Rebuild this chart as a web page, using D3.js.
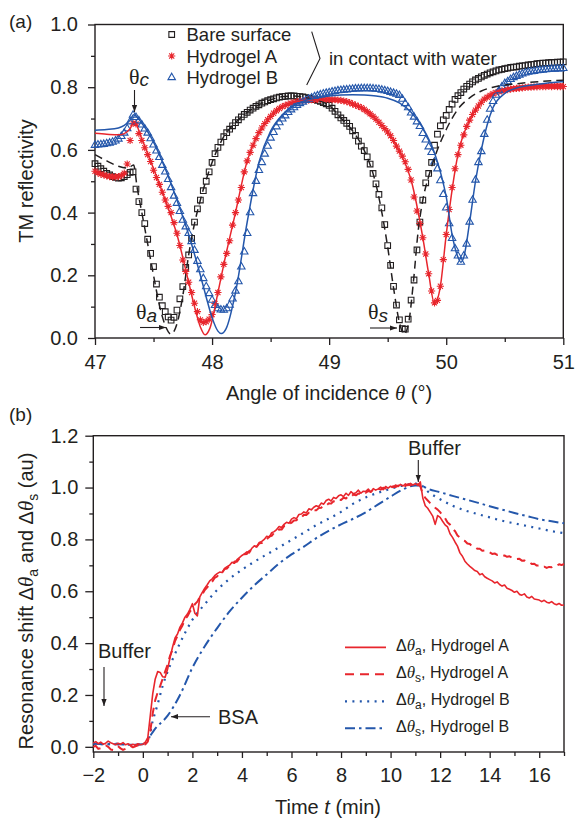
<!DOCTYPE html>
<html>
<head>
<meta charset="utf-8">
<script src="https://cdn.jsdelivr.net/npm/d3@7"></script>
<style>
  body { margin: 0; background: #fff; }
  svg text { font-family: "Liberation Sans", Arial, Helvetica, sans-serif; fill: #231f20; }
</style>
</head>
<body>
<svg id="chart" width="575" height="822"></svg>
<script>
// ---------- Panel (a): TM reflectivity vs. angle of incidence ----------
// measured points, sampled every 0.025° starting at 47°
const angleStart = 47;
const angleStep = 0.025;
const bareSurface = [
  0.556,0.548,0.540,0.532,0.525,0.520,0.515,0.512,0.510,0.511,
  0.515,0.521,0.528,0.530,0.475,0.435,0.400,0.365,0.315,0.270,
  0.228,0.172,0.130,0.103,0.084,0.067,0.057,0.066,0.089,0.125,
  0.164,0.225,0.265,0.318,0.370,0.412,0.440,0.470,0.500,0.530,
  0.560,0.588,0.608,0.625,0.642,0.655,0.666,0.677,0.687,0.696,
  0.705,0.713,0.720,0.727,0.733,0.739,0.744,0.749,0.753,0.757,
  0.760,0.763,0.766,0.768,0.770,0.771,0.772,0.772,0.772,0.771,
  0.770,0.769,0.767,0.765,0.762,0.760,0.758,0.755,0.751,0.747,
  0.742,0.733,0.723,0.712,0.702,0.694,0.685,0.675,0.661,0.646,
  0.628,0.612,0.598,0.578,0.555,0.525,0.492,0.458,0.415,0.362,
  0.295,0.232,0.165,0.105,0.058,0.030,0.028,0.060,0.121,0.185,
  0.281,0.370,0.440,0.495,0.525,0.560,0.615,0.650,0.677,0.696,
  0.710,0.729,0.746,0.761,0.773,0.783,0.794,0.803,0.810,0.817,
  0.823,0.828,0.833,0.838,0.842,0.846,0.849,0.852,0.855,0.857,
  0.859,0.861,0.863,0.864,0.865,0.867,0.868,0.869,0.871,0.872,
  0.873,0.875,0.876,0.877,0.877,0.878,0.879,0.879,0.880,0.880,
  0.881
];
const hydrogelA = [
  0.532,0.527,0.523,0.520,0.517,0.515,0.514,0.514,0.515,0.518,
  0.526,0.555,0.630,0.685,0.683,0.652,0.630,0.607,0.585,0.563,
  0.535,0.512,0.490,0.465,0.440,0.420,0.400,0.368,0.334,0.295,
  0.249,0.212,0.178,0.145,0.111,0.084,0.058,0.050,0.052,0.060,
  0.075,0.110,0.145,0.195,0.235,0.270,0.310,0.360,0.400,0.440,
  0.480,0.530,0.565,0.592,0.615,0.636,0.655,0.670,0.684,0.696,
  0.707,0.717,0.725,0.732,0.738,0.742,0.746,0.749,0.752,0.754,
  0.756,0.757,0.758,0.759,0.760,0.760,0.761,0.761,0.761,0.761,
  0.761,0.760,0.760,0.759,0.758,0.756,0.754,0.751,0.747,0.743,
  0.739,0.735,0.729,0.722,0.715,0.707,0.698,0.688,0.678,0.668,
  0.657,0.645,0.630,0.612,0.596,0.580,0.562,0.538,0.504,0.450,
  0.405,0.365,0.320,0.268,0.205,0.150,0.112,0.120,0.165,0.250,
  0.330,0.410,0.480,0.540,0.585,0.615,0.648,0.675,0.695,0.713,
  0.727,0.740,0.752,0.762,0.768,0.774,0.779,0.783,0.786,0.788,
  0.790,0.792,0.794,0.795,0.796,0.797,0.798,0.799,0.800,0.800,
  0.801,0.801,0.802,0.802,0.802,0.803,0.802,0.803,0.802,0.802,
  0.802
];
const hydrogelB = [
  0.615,0.616,0.617,0.618,0.620,0.622,0.625,0.629,0.635,0.643,
  0.654,0.668,0.690,0.711,0.704,0.693,0.680,0.667,0.654,0.636,
  0.616,0.597,0.576,0.551,0.530,0.506,0.480,0.453,0.430,0.404,
  0.376,0.355,0.334,0.308,0.280,0.245,0.218,0.190,0.164,0.142,
  0.121,0.104,0.094,0.090,0.089,0.094,0.105,0.125,0.150,0.180,
  0.227,0.275,0.334,0.400,0.461,0.500,0.535,0.560,0.587,0.612,
  0.638,0.656,0.674,0.687,0.699,0.709,0.720,0.728,0.735,0.742,
  0.748,0.753,0.758,0.762,0.766,0.770,0.773,0.776,0.779,0.781,
  0.783,0.785,0.787,0.789,0.790,0.791,0.792,0.793,0.794,0.795,
  0.795,0.796,0.796,0.796,0.796,0.795,0.794,0.793,0.791,0.789,
  0.787,0.784,0.781,0.778,0.774,0.762,0.748,0.735,0.718,0.705,
  0.690,0.675,0.653,0.632,0.610,0.592,0.562,0.540,0.502,0.458,
  0.415,0.365,0.318,0.285,0.262,0.242,0.262,0.300,0.370,0.440,
  0.504,0.560,0.595,0.650,0.695,0.730,0.755,0.775,0.789,0.801,
  0.812,0.818,0.825,0.831,0.835,0.839,0.843,0.846,0.848,0.850,
  0.851,0.853,0.854,0.855,0.856,0.857,0.858,0.858,0.859,0.859,
  0.860
];
// fitted curves, [angle, reflectivity]
const fitBare = [[47.00,0.585],[47.10,0.565],[47.20,0.548],[47.28,0.542],[47.33,0.552],[47.36,0.48],[47.40,0.40],[47.45,0.30],[47.50,0.20],[47.55,0.105],[47.60,0.04],[47.65,0.012],[47.70,0.045],[47.75,0.135],[47.80,0.265],[47.85,0.365],[47.90,0.44],[48.00,0.56],[48.10,0.642],[48.20,0.687],[48.30,0.72],[48.40,0.744],[48.50,0.76],[48.60,0.77],[48.70,0.772],[48.80,0.767],[48.90,0.758],[49.00,0.742],[49.10,0.702],[49.20,0.661],[49.30,0.598],[49.40,0.49],[49.50,0.29],[49.55,0.16],[49.60,0.05],[49.64,0.012],[49.68,0.05],[49.72,0.18],[49.76,0.34],[49.80,0.44],[49.85,0.515],[49.90,0.575],[50.00,0.665],[50.10,0.73],[50.20,0.766],[50.30,0.788],[50.40,0.80],[50.60,0.811],[50.80,0.818],[51.00,0.822]];
const fitA = [[47.00,0.653],[47.10,0.650],[47.20,0.648],[47.25,0.652],[47.30,0.668],[47.335,0.69],[47.40,0.635],[47.50,0.54],[47.60,0.44],[47.70,0.33],[47.80,0.178],[47.85,0.10],[47.90,0.035],[47.94,0.01],[47.98,0.03],[48.05,0.145],[48.10,0.235],[48.20,0.40],[48.30,0.565],[48.40,0.655],[48.50,0.707],[48.60,0.738],[48.70,0.752],[48.80,0.758],[48.90,0.76],[49.00,0.76],[49.10,0.757],[49.20,0.746],[49.30,0.728],[49.40,0.697],[49.50,0.656],[49.60,0.596],[49.70,0.504],[49.80,0.32],[49.85,0.205],[49.90,0.11],[49.95,0.165],[50.00,0.33],[50.10,0.585],[50.20,0.695],[50.30,0.752],[50.40,0.782],[50.50,0.795],[50.60,0.802],[50.80,0.807],[51.00,0.81]];
const fitB = [[47.00,0.663],[47.10,0.665],[47.20,0.670],[47.25,0.678],[47.30,0.695],[47.33,0.712],[47.40,0.685],[47.50,0.625],[47.60,0.54],[47.70,0.44],[47.80,0.33],[47.90,0.20],[47.95,0.13],[48.00,0.065],[48.05,0.022],[48.08,0.014],[48.12,0.03],[48.20,0.145],[48.30,0.37],[48.40,0.56],[48.50,0.66],[48.60,0.712],[48.70,0.742],[48.80,0.758],[48.90,0.767],[49.00,0.772],[49.10,0.775],[49.20,0.776],[49.30,0.775],[49.40,0.772],[49.50,0.765],[49.60,0.75],[49.70,0.72],[49.80,0.67],[49.90,0.59],[49.95,0.53],[50.00,0.45],[50.05,0.33],[50.10,0.258],[50.125,0.242],[50.15,0.258],[50.20,0.37],[50.25,0.50],[50.30,0.60],[50.35,0.68],[50.40,0.735],[50.50,0.78],[50.60,0.797],[50.80,0.81],[51.00,0.818]];
const angleTicks = [47, 48, 49, 50, 51];
const angleMinorTicks = [47.5, 48.5, 49.5, 50.5];
const reflTicks = [0, 0.2, 0.4, 0.6, 0.8, 1.0];
const reflMinorTicks = [0.1, 0.3, 0.5, 0.7, 0.9];
const legendA = ["Bare surface", "Hydrogel A", "Hydrogel B"];

// ---------- Panel (b): normalised resonance shift vs. time ----------
// Hydrogel A, sampled every 0.1 min from -2 min
const timeStart = -2;
const timeStep = 0.1;
const shiftA_a = [
  0.015,0.020,0.012,0.018,0.010,0.014,0.022,0.016,0.012,0.008,
  0.014,0.010,0.016,0.008,0.012,0.005,0.010,0.006,0.012,0.008,
  0.010,0.018,0.035,0.120,0.205,0.262,0.290,0.287,0.270,0.268,
  0.300,0.345,0.385,0.420,0.435,0.462,0.478,0.500,0.512,0.530,
  0.552,0.515,0.505,0.578,0.596,0.612,0.625,0.640,0.648,0.660,
  0.668,0.674,0.672,0.688,0.695,0.700,0.712,0.708,0.722,0.730,
  0.738,0.744,0.752,0.748,0.766,0.775,0.772,0.788,0.792,0.800,
  0.812,0.808,0.826,0.830,0.838,0.850,0.846,0.858,0.866,0.862,
  0.878,0.884,0.880,0.896,0.898,0.906,0.902,0.918,0.914,0.924,
  0.930,0.926,0.940,0.936,0.950,0.955,0.948,0.962,0.958,0.968,
  0.972,0.965,0.978,0.970,0.984,0.976,0.980,0.990,0.978,0.986,
  0.985,0.994,0.982,0.996,0.990,0.995,1.002,0.992,1.004,0.998,
  1.005,1.000,1.010,1.004,1.012,1.006,1.014,1.008,1.016,1.010,
  1.015,1.008,1.022,0.960,0.930,0.920,0.905,0.890,0.858,0.892,
  0.885,0.870,0.856,0.848,0.822,0.808,0.790,0.774,0.748,0.735,
  0.716,0.705,0.696,0.688,0.680,0.676,0.664,0.668,0.656,0.650,
  0.645,0.640,0.632,0.636,0.626,0.620,0.624,0.612,0.608,0.603,
  0.596,0.600,0.588,0.585,0.590,0.578,0.574,0.580,0.570,0.568,
  0.566,0.560,0.565,0.558,0.555,0.560,0.552,0.548,0.553,0.546,
  0.547
];
const shiftA_s = [
  0.000,0.004,-0.008,-0.005,0.002,0.006,0.000,-0.010,-0.012,-0.004,
  0.002,-0.006,-0.012,-0.008,0.000,0.004,-0.002,0.002,0.006,0.004,
  0.006,0.010,0.020,0.060,0.130,0.180,0.210,0.235,0.262,0.290,
  0.318,0.352,0.375,0.408,0.428,0.452,0.468,0.492,0.503,0.522,
  0.532,0.550,0.560,0.578,0.588,0.605,0.615,0.630,0.637,0.652,
  0.657,0.671,0.672,0.686,0.688,0.700,0.700,0.715,0.714,0.727,
  0.730,0.743,0.744,0.756,0.758,0.771,0.772,0.785,0.786,0.797,
  0.800,0.811,0.814,0.825,0.826,0.839,0.838,0.851,0.852,0.861,
  0.864,0.873,0.874,0.885,0.884,0.895,0.894,0.903,0.904,0.913,
  0.912,0.921,0.922,0.931,0.930,0.939,0.938,0.947,0.944,0.953,
  0.952,0.961,0.958,0.967,0.964,0.973,0.970,0.977,0.976,0.983,
  0.980,0.987,0.984,0.991,0.988,0.995,0.992,0.999,0.996,1.003,
  0.998,1.005,1.002,1.008,1.004,1.011,1.006,1.013,1.008,1.014,
  1.010,1.014,1.005,0.975,0.960,0.950,0.940,0.930,0.922,0.915,
  0.905,0.892,0.882,0.865,0.857,0.840,0.832,0.815,0.807,0.798,
  0.794,0.784,0.782,0.773,0.772,0.764,0.764,0.756,0.757,0.750,
  0.750,0.744,0.746,0.740,0.742,0.736,0.738,0.733,0.735,0.729,
  0.730,0.724,0.725,0.718,0.719,0.712,0.712,0.705,0.706,0.699,
  0.700,0.693,0.695,0.690,0.694,0.693,0.700,0.698,0.704,0.701,
  0.705
];
// Hydrogel B, [time, shift]
const shiftB_a = [[-2,0.012],[-1.5,0.010],[-1,0.012],[-0.5,0.008],[0,0.010],[0.2,0.02],[0.4,0.10],[0.6,0.165],[0.8,0.235],[1.0,0.29],[1.25,0.348],[1.5,0.40],[1.75,0.448],[2,0.49],[2.5,0.55],[3,0.605],[3.5,0.648],[4,0.683],[4.5,0.714],[5,0.742],[5.5,0.77],[6,0.798],[6.5,0.826],[7,0.855],[7.5,0.88],[8,0.906],[8.5,0.938],[9,0.962],[9.5,0.98],[10,0.995],[10.5,1.008],[11,1.015],[11.2,1.012],[11.5,0.985],[12,0.955],[12.5,0.93],[13,0.912],[13.5,0.898],[14,0.885],[14.5,0.872],[15,0.862],[15.5,0.852],[16,0.842],[16.5,0.832],[17,0.824]];
const shiftB_s = [[-2,0.012],[-1.5,0.010],[-1,0.010],[-0.5,0.008],[0,0.010],[0.2,0.03],[0.5,0.07],[1.0,0.12],[1.5,0.20],[2.0,0.305],[2.5,0.388],[3.0,0.458],[3.5,0.522],[4.0,0.575],[4.5,0.623],[5.0,0.665],[5.5,0.707],[6.0,0.742],[6.5,0.772],[7.0,0.805],[7.5,0.833],[8.0,0.858],[8.5,0.88],[9.0,0.905],[9.5,0.935],[10.0,0.965],[10.5,0.993],[11.0,1.008],[11.2,1.008],[11.5,0.995],[12,0.982],[12.5,0.968],[13,0.955],[13.5,0.942],[14,0.928],[14.5,0.915],[15,0.902],[15.5,0.89],[16,0.878],[16.5,0.87],[17,0.862]];
const timeTicks = [-2, 0, 2, 4, 6, 8, 10, 12, 14, 16];
const timeMinorTicks = [-1, 1, 3, 5, 7, 9, 11, 13, 15, 17];
const shiftTicks = [0, 0.2, 0.4, 0.6, 0.8, 1.0, 1.2];
const shiftMinorTicks = [0.1, 0.3, 0.5, 0.7, 0.9, 1.1];

// ---------- drawing ----------
const ink = "#231f20", red = "#e8262d", blue = "#2457ab";
const svg = d3.select("#chart");

const xA = d3.scaleLinear().domain([47, 51]).range([95, 563.3]);
const yA = d3.scaleLinear().domain([0, 1]).range([338, 24.5]);
const xB = d3.scaleLinear().domain([-2, 17]).range([93.3, 564]);
const yB = d3.scaleLinear().domain([-0.02, 1.2]).range([752, 435.7]);

function frameAndAxes(x, y, o) {
  const [xl, xr] = x.range();
  const [yb, yt] = y.range();
  const g = svg.append("g");
  const tidy = sel => {
    sel.select(".domain").remove();
    sel.selectAll(".tick line").attr("stroke", ink).attr("stroke-width", 1.3);
    sel.selectAll(".tick text").attr("font-size", 20).attr("fill", ink)
      .attr("font-family", "'Liberation Sans', Arial, sans-serif");
  };
  g.append("g").attr("transform", `translate(0,${yb})`)
    .call(d3.axisBottom(x).tickValues(o.xMinor).tickSize(4).tickFormat("")).call(tidy);
  g.append("g").attr("transform", `translate(0,${yb})`)
    .call(d3.axisBottom(x).tickValues(o.xMajor).tickSize(o.xTick).tickPadding(o.xPad).tickFormat(o.xFmt)).call(tidy);
  g.append("g").attr("transform", `translate(${xl},0)`)
    .call(d3.axisLeft(y).tickValues(o.yMinor).tickSize(4).tickFormat("")).call(tidy);
  g.append("g").attr("transform", `translate(${xl},0)`)
    .call(d3.axisLeft(y).tickValues(o.yMajor).tickSize(o.yTick).tickPadding(o.yPad).tickFormat(d3.format(".1f"))).call(tidy);
  g.append("rect").attr("x", xl).attr("y", yt).attr("width", xr - xl).attr("height", yb - yt)
    .attr("fill", "none").attr("stroke", ink).attr("stroke-width", 1.4);
}

// text built from parts: {t, italic, serif, sub, size}
function richText(parent, x, y, parts, opts = {}) {
  const t = parent.append("text").attr("x", x).attr("y", y)
    .attr("font-size", opts.size || 20).attr("text-anchor", opts.anchor || "start");
  if (opts.transform) t.attr("transform", opts.transform);
  let shift = 0;
  parts.forEach(p => {
    const s = t.append("tspan").text(p.t);
    if (p.italic) s.attr("font-style", "italic");
    if (p.serif) s.attr("font-family", "'Liberation Serif', 'DejaVu Serif', serif");
    if (p.size) s.attr("font-size", p.size);
    const target = p.sub || 0;
    if (target !== shift) { s.attr("dy", target - shift); shift = target; }
  });
  return t;
}

function arrow(x1, y1, x2, y2) {
  svg.append("line").attr("x1", x1).attr("y1", y1).attr("x2", x2).attr("y2", y2)
    .attr("stroke", ink).attr("stroke-width", 1.1);
  const a = Math.atan2(y2 - y1, x2 - x1), L = 7, W = 2.6;
  const p = [[x2, y2],
    [x2 - L * Math.cos(a) + W * Math.sin(a), y2 - L * Math.sin(a) - W * Math.cos(a)],
    [x2 - L * Math.cos(a) - W * Math.sin(a), y2 - L * Math.sin(a) + W * Math.cos(a)]];
  svg.append("path").attr("d", "M" + p.map(d => d.join(",")).join("L") + "Z").attr("fill", ink);
}

// ----- panel (a) -----
frameAndAxes(xA, yA, {
  xMajor: angleTicks, xMinor: angleMinorTicks, xTick: 7, xPad: 10, xFmt: d3.format("d"),
  yMajor: reflTicks, yMinor: reflMinorTicks, yTick: 7, yPad: 10
});

const asterisk = {
  draw(ctx, size) {
    const r = Math.sqrt(size) / 2, d = r * 0.7071;
    ctx.moveTo(-r, 0); ctx.lineTo(r, 0);
    ctx.moveTo(0, -r); ctx.lineTo(0, r);
    ctx.moveTo(-d, -d); ctx.lineTo(d, d);
    ctx.moveTo(-d, d); ctx.lineTo(d, -d);
  }
};
const markerSets = [
  { data: bareSurface, sym: d3.symbol().type(d3.symbolSquare).size(32), color: ink },
  { data: hydrogelA, sym: d3.symbol().type(asterisk).size(52), color: red },
  { data: hydrogelB, sym: d3.symbol().type(d3.symbolTriangle).size(24), color: blue }
];
const angleOf = i => +(angleStart + i * angleStep).toFixed(3);
markerSets.forEach(m => {
  svg.append("g").selectAll("path").data(m.data).join("path")
    .attr("transform", (v, i) => `translate(${xA(angleOf(i))},${yA(v)})`)
    .attr("d", m.sym()).attr("fill", "none").attr("stroke", m.color).attr("stroke-width", 1.1);
});

const lineA = d3.line().x(d => xA(d[0])).y(d => yA(d[1])).curve(d3.curveMonotoneX);
svg.append("path").attr("d", lineA(fitBare)).attr("fill", "none").attr("stroke", ink)
  .attr("stroke-width", 1.5).attr("stroke-dasharray", "8,5");
svg.append("path").attr("d", lineA(fitA)).attr("fill", "none").attr("stroke", red).attr("stroke-width", 1.5);
svg.append("path").attr("d", lineA(fitB)).attr("fill", "none").attr("stroke", blue).attr("stroke-width", 1.5);

// legend (a)
markerSets.forEach((m, i) => {
  const yy = 34.5 + i * 21.5;
  svg.append("path").attr("transform", `translate(171.7,${yy})`).attr("d", m.sym())
    .attr("fill", "none").attr("stroke", m.color).attr("stroke-width", 1.1);
  svg.append("text").attr("x", 186.5).attr("y", yy + 6.8).attr("font-size", 18.5).text(legendA[i]);
});
svg.append("path").attr("d", "M311.7,31.7L320,58.5L306.7,85").attr("fill", "none")
  .attr("stroke", ink).attr("stroke-width", 1.1);
svg.append("text").attr("x", 329).attr("y", 65).attr("font-size", 18.5).text("in contact with water");

// panel label, axis titles (a)
svg.append("text").attr("x", 9).attr("y", 28).attr("font-size", 19).text("(a)");
svg.append("text").attr("transform", "translate(33,181) rotate(-90)").attr("text-anchor", "middle")
  .attr("font-size", 20).text("TM reflectivity");
richText(svg, 329, 400, [{ t: "Angle of incidence " }, { t: "θ", italic: true, serif: true, size: 21 }, { t: " (°)" }],
  { anchor: "middle" });

// angle markers θc, θa, θs
richText(svg, 129, 84, [{ t: "θ", serif: true, size: 22 }, { t: "c", italic: true, sub: 2, size: 19 }]);
arrow(134.5, 90, 134.5, 112);
richText(svg, 136, 319, [{ t: "θ", serif: true, size: 22 }, { t: "a", italic: true, sub: 3, size: 19 }]);
arrow(140, 327.5, 166, 327.5);
richText(svg, 368, 319, [{ t: "θ", serif: true, size: 22 }, { t: "s", italic: true, sub: 3, size: 19 }]);
arrow(370, 328, 397, 328);

// ----- panel (b) -----
frameAndAxes(xB, yB, {
  xMajor: timeTicks, xMinor: timeMinorTicks, xTick: 6, xPad: 10, xFmt: d3.format("d"),
  yMajor: shiftTicks, yMinor: shiftMinorTicks, yTick: 8, yPad: 7
});

const timeOf = i => +(timeStart + i * timeStep).toFixed(2);
const lineB = d3.line().x(d => xB(d[0])).y(d => yB(d[1]));
const lineBsmooth = d3.line().x(d => xB(d[0])).y(d => yB(d[1])).curve(d3.curveMonotoneX);
const seriesB = [
  { d: lineBsmooth(shiftB_s), color: blue, dash: "10,4,2.5,4", w: 2 },
  { d: lineBsmooth(shiftB_a), color: blue, dash: "2,5.4", w: 2.2 },
  { d: lineB(shiftA_s.map((v, i) => [timeOf(i), v])), color: red, dash: "9,6", w: 2 },
  { d: lineB(shiftA_a.map((v, i) => [timeOf(i), v])), color: red, dash: null, w: 1.6 }
];
seriesB.forEach(s => {
  svg.append("path").attr("d", s.d).attr("fill", "none").attr("stroke", s.color)
    .attr("stroke-width", s.w).attr("stroke-dasharray", s.dash).attr("stroke-linejoin", "round");
});

// legend (b)
const legendB = [
  { sub: "a", gel: "Hydrogel A", color: red, dash: null, w: 1.8 },
  { sub: "s", gel: "Hydrogel A", color: red, dash: "9,6", w: 2 },
  { sub: "a", gel: "Hydrogel B", color: blue, dash: "2,5.4", w: 2.2 },
  { sub: "s", gel: "Hydrogel B", color: blue, dash: "10,4,2.5,4", w: 2 }
];
legendB.forEach((e, i) => {
  const yy = 647.3 + i * 27;
  svg.append("line").attr("x1", 345).attr("x2", 386).attr("y1", yy).attr("y2", yy)
    .attr("stroke", e.color).attr("stroke-width", e.w).attr("stroke-dasharray", e.dash);
  richText(svg, 396, yy + 4, [
    { t: "Δ" }, { t: "θ", italic: true, serif: true, size: 17 },
    { t: e.sub, sub: 4, size: 12 }, { t: ", " + e.gel }
  ], { size: 16 });
});

// annotations (b)
svg.append("text").attr("x", 408).attr("y", 455).attr("font-size", 20).text("Buffer");
arrow(418.3, 460, 418.3, 482);
svg.append("text").attr("x", 98).attr("y", 658).attr("font-size", 20).text("Buffer");
arrow(104, 667, 104, 706);
svg.append("text").attr("x", 218).attr("y", 724).attr("font-size", 20).text("BSA");
arrow(210, 716.7, 171, 716.7);

// panel label, axis titles (b)
svg.append("text").attr("x", 9).attr("y", 421).attr("font-size", 19).text("(b)");
richText(svg, 0, 0, [
  { t: "Resonance shift Δ" }, { t: "θ", italic: true, serif: true, size: 21 }, { t: "a", sub: 5, size: 14 },
  { t: " and Δ" }, { t: "θ", italic: true, serif: true, size: 21 }, { t: "s", sub: 5, size: 14 }, { t: " (au)" }
], { anchor: "middle", size: 20, transform: "translate(33,601) rotate(-90)" });
richText(svg, 328, 814, [{ t: "Time " }, { t: "t", italic: true }, { t: " (min)" }], { anchor: "middle" });
</script>
</body>
</html>
